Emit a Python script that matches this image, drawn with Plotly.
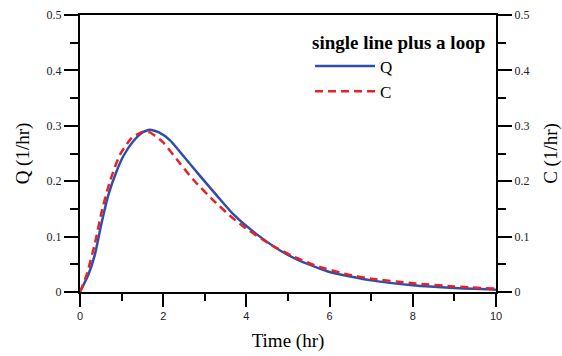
import plotly.graph_objects as go

# Data
t_q = [0, 0.2, 0.36, 0.52, 0.68, 0.88, 1.04, 1.28, 1.5, 1.68, 1.9, 2.16, 2.48, 2.88, 3.29, 3.69, 4.25, 4.81, 5.29, 6.0, 7.0, 8.0, 9.0, 10.0]
q_vals = [0, 0.031, 0.068, 0.125, 0.175, 0.218, 0.245, 0.272, 0.288, 0.293, 0.288, 0.274, 0.246, 0.210, 0.174, 0.140, 0.104, 0.075, 0.056, 0.036, 0.021, 0.012, 0.007, 0.004]

t_c = [0, 0.16, 0.36, 0.52, 0.72, 0.96, 1.24, 1.5, 1.68, 2.0, 2.32, 2.72, 3.2, 3.6, 3.93, 4.57, 5.13, 5.69, 6.41, 7.0, 8.0, 9.0, 10.0]
c_vals = [0, 0.031, 0.088, 0.145, 0.200, 0.248, 0.278, 0.289, 0.288, 0.270, 0.240, 0.203, 0.166, 0.138, 0.118, 0.086, 0.064, 0.047, 0.032, 0.024, 0.016, 0.010, 0.006]

x_ticks = [0, 2, 4, 6, 8, 10]
y_ticks = [0, 0.1, 0.2, 0.3, 0.4, 0.5]
y_ticklabels = ["0", "0.1", "0.2", "0.3", "0.4", "0.5"]

SERIF = "Liberation Serif, Times New Roman, serif"
SANS = "Liberation Sans, Arial, sans-serif"

fig = go.Figure()
fig.add_trace(go.Scatter(x=t_q, y=q_vals, mode="lines", name="Q",
                         line=dict(color="#2E4FA8", width=2.5, shape="spline", smoothing=0.5)))
fig.add_trace(go.Scatter(x=t_c, y=c_vals, mode="lines", name="C",
                         line=dict(color="#E8202A", width=2.5, dash="8px,5px", shape="spline", smoothing=0.5)))
# invisible trace bound to right axis so it renders
fig.add_trace(go.Scatter(x=[0], y=[0], yaxis="y2", mode="markers", marker=dict(opacity=0),
                         showlegend=False, hoverinfo="skip"))

axis_common = dict(showline=True, linewidth=2, linecolor="black", ticks="outside",
                   tickwidth=2, tickcolor="black", showgrid=False, zeroline=False,
                   automargin=False)

fig.update_layout(
    width=562, height=356,
    margin=dict(l=80, r=66, t=15, b=64),
    paper_bgcolor="white", plot_bgcolor="white",
    showlegend=True,
    legend=dict(x=0.553, y=0.968, xanchor="left", yanchor="top",
                bgcolor="rgba(0,0,0,0)",
                font=dict(family=SERIF, size=17, color="black"),
                title=dict(text="<b>single line plus a loop</b>",
                           font=dict(family=SERIF, size=19, color="black")),
                tracegroupgap=0, itemwidth=60),
    xaxis=dict(range=[0, 10], tickvals=x_ticks, ticklen=13, mirror=True,
               tickfont=dict(family=SANS, size=11, color="#222"),
               minor=dict(dtick=1, ticklen=7, tickwidth=2, tickcolor="black", ticks="outside"),
               title=dict(text="Time (hr)", font=dict(family=SERIF, size=19, color="black"), standoff=12),
               **axis_common),
    yaxis=dict(range=[0, 0.5], tickvals=y_ticks, ticktext=y_ticklabels, ticklen=14,
               tickfont=dict(family=SERIF, size=12, color="#222"),
               minor=dict(dtick=0.05, ticklen=8, tickwidth=2, tickcolor="black", ticks="outside"),
               title=dict(text="Q (1/hr)", font=dict(family=SERIF, size=19, color="black"), standoff=12),
               **axis_common),
    yaxis2=dict(range=[0, 0.5], tickvals=y_ticks, ticktext=y_ticklabels, ticklen=14,
                overlaying="y", side="right",
                tickfont=dict(family=SERIF, size=12, color="#222"),
                minor=dict(dtick=0.05, ticklen=8, tickwidth=2, tickcolor="black", ticks="outside"),
                title=dict(text="C (1/hr)", font=dict(family=SERIF, size=19, color="black"), standoff=16),
                **axis_common),
)

fig.write_html("out.html")
